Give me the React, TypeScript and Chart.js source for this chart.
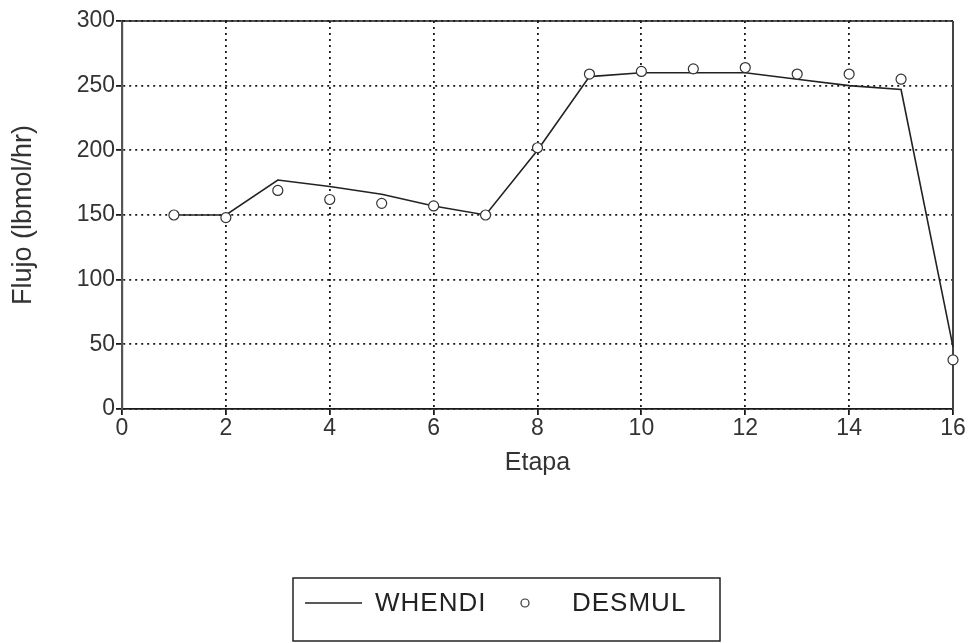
import { useEffect, useRef } from "react";
import { Chart, registerables } from "chart.js";

Chart.register(...registerables);

// ---- data ----
const stages = [1, 2, 3, 4, 5, 6, 7, 8, 9, 10, 11, 12, 13, 14, 15, 16];
const whendi = [150, 150, 177, 172, 166, 157, 150, 200, 257, 260, 260, 260, 255, 250, 247, 48];
const desmul = [150, 148, 169, 162, 159, 157, 150, 202, 259, 261, 263, 264, 259, 259, 255, 38];
const xTicks = [0, 2, 4, 6, 8, 10, 12, 14, 16];
const yTicks = [0, 50, 100, 150, 200, 250, 300];
const seriesNames = ["WHENDI", "DESMUL"];
const xTitle = "Etapa";
const yTitle = "Flujo (lbmol/hr)";

const FONT = "'Liberation Sans', Arial, sans-serif";
const TEXT = "#333";
const INK = "#1a1a1a";

const framePlugin = {
  id: "frame",
  beforeDatasetsDraw(chart: any) {
    const { ctx, chartArea: a } = chart;
    ctx.save();
    ctx.setLineDash([]);
    ctx.strokeStyle = INK;
    ctx.lineWidth = 1.6;
    ctx.beginPath();
    ctx.moveTo(a.left, a.top);
    ctx.lineTo(a.right, a.top);
    ctx.stroke();
    ctx.strokeStyle = "#444";
    ctx.lineWidth = 2;
    ctx.beginPath();
    ctx.moveTo(a.right, a.top);
    ctx.lineTo(a.right, a.bottom);
    ctx.stroke();
    ctx.restore();
  },
};

const boxLegendPlugin = {
  id: "boxLegend",
  afterDraw(chart: any) {
    const { ctx } = chart;
    const W = chart.width;
    const H = chart.height;
    const left = Math.round(W * 0.302);
    const top = H - 65;
    const w = 427;
    const h = 63;
    ctx.save();
    ctx.setLineDash([]);
    ctx.strokeStyle = "#222";
    ctx.lineWidth = 1.5;
    ctx.strokeRect(left, top, w, h);
    const cy = top + 25;
    const ds0 = chart.data.datasets[0];
    const ds1 = chart.data.datasets[1];
    // line sample
    ctx.strokeStyle = ds0.borderColor;
    ctx.lineWidth = 1.5;
    ctx.beginPath();
    ctx.moveTo(left + 12, cy);
    ctx.lineTo(left + 69, cy);
    ctx.stroke();
    ctx.fillStyle = "#222";
    ctx.font = `26px ${FONT}`;
    ctx.letterSpacing = "1px";
    ctx.textBaseline = "middle";
    ctx.textAlign = "left";
    ctx.fillText(ds0.label, left + 82, cy + 1);
    // marker sample
    ctx.beginPath();
    ctx.arc(left + 232, cy, 4, 0, Math.PI * 2);
    ctx.fillStyle = ds1.pointBackgroundColor;
    ctx.fill();
    ctx.strokeStyle = ds1.pointBorderColor;
    ctx.lineWidth = 1.2;
    ctx.stroke();
    ctx.fillStyle = "#222";
    ctx.fillText(ds1.label, left + 279, cy + 1);
    ctx.restore();
  },
};

export default function App() {
  const ref = useRef<HTMLCanvasElement | null>(null);

  useEffect(() => {
    if (!ref.current) return;
    const chart = new Chart(ref.current, {
      type: "line",
      data: {
        datasets: [
          {
            label: seriesNames[0],
            data: stages.map((s, i) => ({ x: s, y: whendi[i] })),
            borderColor: "#222",
            borderWidth: 1.6,
            pointRadius: 0,
            tension: 0,
            fill: false,
            clip: false,
            order: 2,
          },
          {
            label: seriesNames[1],
            data: stages.map((s, i) => ({ x: s, y: desmul[i] })),
            showLine: false,
            pointStyle: "circle",
            pointRadius: 5,
            pointBorderWidth: 1.2,
            pointBorderColor: "#333",
            pointBackgroundColor: "#fff",
            borderColor: "#333",
            backgroundColor: "#fff",
            clip: false,
            order: 1,
          },
        ],
      },
      options: {
        animation: false,
        responsive: true,
        maintainAspectRatio: false,
        layout: { padding: { left: 4, top: 21, right: 18, bottom: 0 } },
        plugins: {
          legend: { display: false },
          tooltip: { enabled: false },
        },
        scales: {
          x: {
            type: "linear",
            min: 0,
            max: 16,
            afterBuildTicks: (s: any) => {
              s.ticks = xTicks.map((v) => ({ value: v }));
            },
            afterFit: (s: any) => {
              s.height = 234;
            },
            grid: {
              color: INK,
              lineWidth: 1.8,
              drawTicks: true,
              tickLength: 6,
              tickColor: INK,
              tickBorderDash: [],
            },
            border: { display: true, color: INK, width: 1.8, dash: [2, 4] },
            ticks: {
              color: TEXT,
              padding: 0,
              font: { family: FONT, size: 23 },
              maxRotation: 0,
            },
            title: {
              display: true,
              text: xTitle,
              color: TEXT,
              font: { family: FONT, size: 25 },
              padding: { top: 0, bottom: 165 },
            },
          },
          y: {
            type: "linear",
            min: 0,
            max: 300,
            afterBuildTicks: (s: any) => {
              s.ticks = yTicks.map((v) => ({ value: v }));
            },
            afterFit: (s: any) => {
              s.width = 118;
            },
            grid: {
              color: INK,
              lineWidth: 1.8,
              drawTicks: true,
              tickLength: 6,
              tickColor: INK,
              tickBorderDash: [],
            },
            border: { display: true, color: "#555", width: 2.2, dash: [2, 4] },
            ticks: {
              color: TEXT,
              padding: 1,
              font: { family: FONT, size: 23 },
            },
            title: {
              display: true,
              text: yTitle,
              color: TEXT,
              font: { family: FONT, size: 27 },
              padding: { top: 3, bottom: 0 },
            },
          },
        },
      },
      plugins: [framePlugin, boxLegendPlugin],
    });
    return () => chart.destroy();
  }, []);

  return (
    <div style={{ position: "absolute", left: 0, top: 0, width: 971, height: 643, background: "#fff" }}>
      <canvas ref={ref} />
    </div>
  );
}
